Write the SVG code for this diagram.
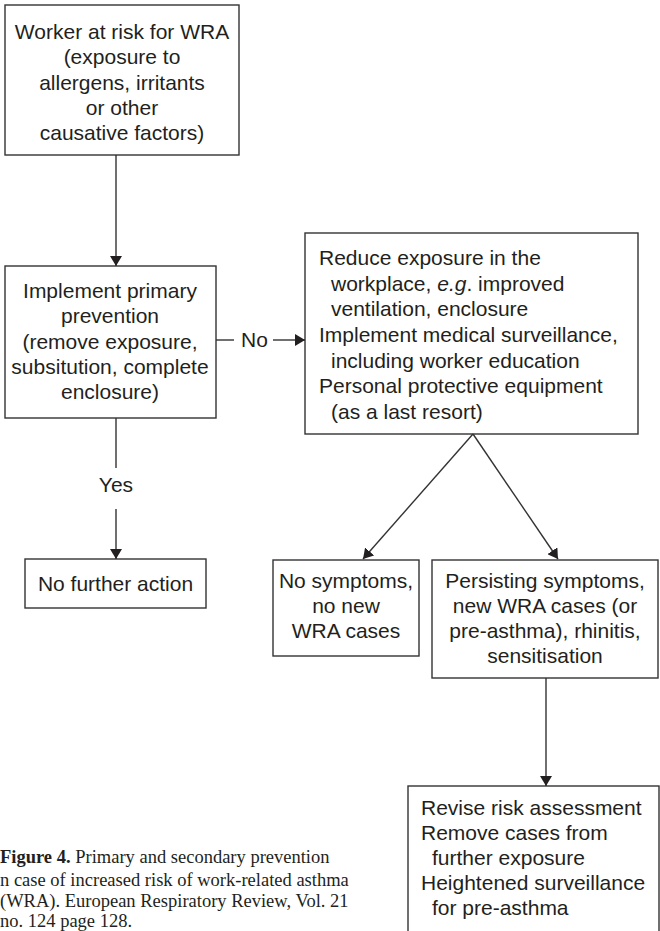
<svg xmlns="http://www.w3.org/2000/svg" width="660" height="931" viewBox="0 0 660 931">
<style>
.box{fill:#fff;stroke:#333;stroke-width:1.4}
.t{font-family:"Liberation Sans",Arial,sans-serif;font-size:21px;fill:#231f20}
.c{text-anchor:middle}
.ln{stroke:#333;stroke-width:1.4;fill:none}
.cap{font-family:"Liberation Serif","Times New Roman",serif;font-size:18.5px;fill:#231f20}
</style>
<defs>
<marker id="ah" viewBox="0 0 10 12" refX="10" refY="6" markerWidth="10" markerHeight="12" orient="auto" markerUnits="userSpaceOnUse">
<path d="M0,0 L10,6 L0,12 z" fill="#231f20"/>
</marker>
</defs>
<rect width="660" height="931" fill="#fff"/>
<g id="n1">
<rect class="box" x="5" y="5" width="234" height="150"/>
<text class="t c" x="122" y="39">Worker at risk for WRA</text>
<text class="t c" x="122" y="64">(exposure to</text>
<text class="t c" x="122" y="89.5">allergens, irritants</text>
<text class="t c" x="122" y="115">or other</text>
<text class="t c" x="122" y="140">causative factors)</text>
</g>
<g id="n2">
<rect class="box" x="5" y="266" width="211" height="152"/>
<text class="t c" x="110" y="298">Implement primary</text>
<text class="t c" x="110" y="323">prevention</text>
<text class="t c" x="110" y="349">(remove exposure,</text>
<text class="t c" x="110" y="374">subsitution, complete</text>
<text class="t c" x="110" y="399">enclosure)</text>
</g>
<g id="n3">
<rect class="box" x="305" y="233" width="333" height="201"/>
<text class="t" x="319" y="265">Reduce exposure in the</text>
<text class="t" x="331" y="290.5">workplace, <tspan font-style="italic">e.g</tspan>. improved</text>
<text class="t" x="331" y="316">ventilation, enclosure</text>
<text class="t" x="319" y="342">Implement medical surveillance,</text>
<text class="t" x="331" y="367.5">including worker education</text>
<text class="t" x="319" y="393">Personal protective equipment</text>
<text class="t" x="331" y="418.5">(as a last resort)</text>
</g>
<g id="n4">
<rect class="box" x="25" y="559" width="181" height="49"/>
<text class="t c" x="115.5" y="591">No further action</text>
</g>
<g id="n5">
<rect class="box" x="273" y="560" width="146" height="96"/>
<text class="t c" x="346" y="588">No symptoms,</text>
<text class="t c" x="346" y="613">no new</text>
<text class="t c" x="346" y="638">WRA cases</text>
</g>
<g id="n6">
<rect class="box" x="432" y="560" width="226" height="118"/>
<text class="t c" x="545" y="588">Persisting symptoms,</text>
<text class="t c" x="545" y="613">new WRA cases (or</text>
<text class="t c" x="545" y="638">pre-asthma), rhinitis,</text>
<text class="t c" x="545" y="663">sensitisation</text>
</g>
<g id="n7">
<rect class="box" x="408" y="786" width="251" height="160"/>
<text class="t" x="421" y="815">Revise risk assessment</text>
<text class="t" x="421" y="840">Remove cases from</text>
<text class="t" x="432" y="865">further exposure</text>
<text class="t" x="421" y="890">Heightened surveillance</text>
<text class="t" x="432" y="915">for pre-asthma</text>
</g>
<g id="connectors">
<line class="ln" x1="116" y1="155" x2="116" y2="266" marker-end="url(#ah)"/>
<line class="ln" x1="116" y1="418" x2="116" y2="468"/>
<text class="t c" x="116" y="492">Yes</text>
<line class="ln" x1="116" y1="509" x2="116" y2="559" marker-end="url(#ah)"/>
<line class="ln" x1="216" y1="340" x2="234" y2="340"/>
<text class="t" x="241" y="346.5">No</text>
<line class="ln" x1="273" y1="340" x2="305" y2="340" marker-end="url(#ah)"/>
<line class="ln" x1="473" y1="434" x2="363" y2="559" marker-end="url(#ah)"/>
<line class="ln" x1="473" y1="434" x2="558" y2="559" marker-end="url(#ah)"/>
<line class="ln" x1="546" y1="678" x2="546" y2="786" marker-end="url(#ah)"/>
</g>
<g id="caption">
<text class="cap" x="0" y="863"><tspan font-weight="bold">Figure 4.</tspan> Primary and secondary prevention</text>
<text class="cap" x="0" y="885.5">n case of increased risk of work-related asthma</text>
<text class="cap" x="0" y="907">(WRA). European Respiratory Review, Vol. 21</text>
<text class="cap" x="0" y="927">no. 124 page 128.</text>
</g>
</svg>
